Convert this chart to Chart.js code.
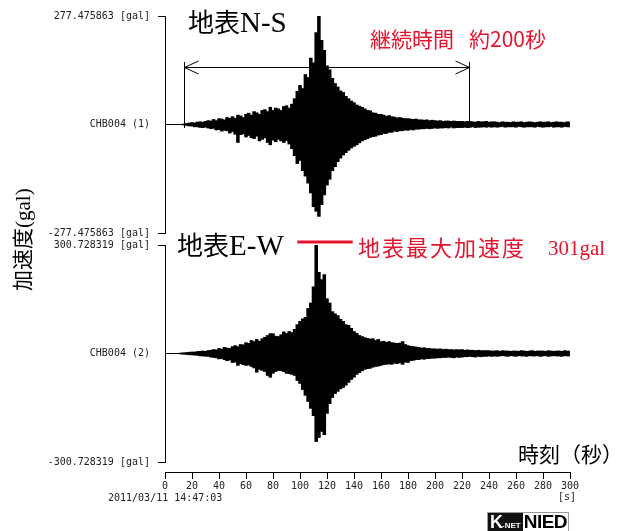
<!DOCTYPE html>
<html lang="ja">
<head>
<meta charset="utf-8">
<title>CHB004 加速度波形</title>
<script src="https://cdn.jsdelivr.net/npm/chart.js@4.4.1/dist/chart.umd.min.js"></script>
<style>
  html, body { margin: 0; background: #fff; }
  #wrap { position: relative; width: 620px; height: 531px; overflow: hidden; }
  #wave { position: absolute; left: 0; top: 0; }
  .note { position: absolute; white-space: nowrap; line-height: 1; }
  .jp { font-family: "Noto Sans CJK JP", sans-serif; }
  .serif { font-family: "Liberation Serif", "DejaVu Serif", serif; }
  .mono { font-family: "DejaVu Sans Mono", monospace; font-size: 10px; color: #222; }
  .red { color: #e5132d; }
  #ylabel { transform: rotate(-90deg); transform-origin: 0 0; }
  #logo { position: absolute; left: 487px; top: 512px; height: 18px; display: flex; border: 1px solid #999; }
  #logo .knet { background: #111; color: #fff; font: bold 18px "Liberation Sans", sans-serif; line-height: 18px; padding: 0 2px; letter-spacing: -1px; }
  #logo .knet small { font-size: 8px; letter-spacing: 0; }
  #logo .nied { color: #000; font: bold 19px "Liberation Sans", sans-serif; line-height: 18px; padding: 0 1px; letter-spacing: -0.5px; }
</style>
</head>
<body>
<div id="wrap">
  <canvas id="wave" width="620" height="531"></canvas>

  <div class="note jp" style="left:188px;top:8px;font-size:26px">地表<span class="serif" style="font-size:29px">N-S</span></div>
  <div class="note jp" style="left:177px;top:231px;font-size:26px">地表<span class="serif" style="font-size:29px">E-W</span></div>
  <div class="note jp red" style="left:370px;top:28px;font-size:21px">継続時間<span style="margin-left:15px">約200秒</span></div>
  <div class="note jp red" style="left:358px;top:235px;font-size:22px;letter-spacing:2px">地表最大加速度</div>
  <div class="note serif red" style="left:548px;top:238px;font-size:21px">301gal</div>
  <div class="note jp" style="left:518px;top:443px;font-size:21px">時刻（秒）</div>
  <div id="ylabel" class="note jp" style="left:11px;top:291px;font-size:21px">加速度<span class="serif">(gal)</span></div>
  <div class="note mono" style="left:108px;top:493px">2011/03/11 14:47:03</div>
  <div class="note mono" style="left:558px;top:492px">[s]</div>
  <div id="logo"><span class="knet">K<small>-NET</small></span><span class="nied">NIED</span></div>
</div>

<script>
// CHB004 surface record, 2011/03/11 14:47:03.
// Envelope of each trace in 2 s bins: peak up / peak down (magnitude) in gal.
const BIN_SECONDS = 2;

const nsUpper = [
  0, 0, 0, 0, 0, 0, 0, 1.3, 2.6, 3.8,
  5, 4, 6.4, 7, 6, 8, 10, 9, 13, 10,
  15, 14, 12, 18, 16, 20, 16, 24, 22, 18,
  26, 29, 24, 33, 30, 26, 36, 38, 33, 44,
  36, 42, 40, 36, 46, 48, 42, 52, 66, 85,
  100, 92, 128, 120, 170, 158, 235, 277.475863, 215, 190,
  150, 140, 118, 105, 96, 86, 82, 72, 66, 60,
  56, 50, 47, 44, 40, 36, 35, 30, 29, 26,
  26, 24, 21, 23, 20, 19, 17, 18, 16, 15,
  15, 14, 13, 14, 12, 12, 11, 12, 10, 11,
  10, 9, 10, 8, 9, 9, 8, 9, 8, 8,
  8, 7, 8, 8, 7, 6, 8, 7, 7, 8,
  6, 7, 7, 6, 5, 7, 6, 6, 5, 7,
  6, 6, 7, 5, 6, 7, 6, 5, 6, 7,
  6, 6, 7, 5, 6, 7, 6, 6, 5, 7, 6
];
const nsLower = [
  0, 0, 0, 0, 0, 0, 0, 1.3, 2.6, 3.8,
  4, 6, 6, 7.5, 8, 7, 9, 11, 10, 14,
  13, 17, 15, 16, 22, 18, 25, 46, 26, 24,
  32, 28, 34, 36, 30, 42, 38, 34, 46, 52,
  40, 44, 38, 42, 46, 41, 50, 62, 80, 100,
  92, 118, 132, 150, 175, 210, 222, 235, 205, 180,
  155, 140, 118, 108, 95, 86, 78, 72, 66, 60,
  56, 52, 47, 42, 39, 36, 33, 31, 30, 27,
  26, 23, 23, 20, 20, 17, 18, 16, 16, 14,
  15, 13, 14, 12, 12, 11, 11, 10, 11, 10,
  9, 10, 9, 9, 8, 9, 7, 9, 8, 8,
  8, 7, 8, 7, 6, 8, 7, 7, 6, 7,
  6, 7, 6, 7, 6, 5, 7, 6, 6, 6,
  7, 5, 6, 7, 6, 6, 6, 7, 5, 6,
  7, 6, 6, 5, 7, 6, 6, 7, 5, 6, 6
];
const ewUpper = [
  0, 0, 0, 0, 0, 0, 1.4, 2, 2.8, 3.5,
  4.2, 4, 5.5, 6, 7, 6, 8.3, 9, 11, 10,
  14, 12, 17, 15, 14, 19, 22, 19, 25, 24,
  30, 28, 36, 33, 39, 34, 41, 45, 50, 55,
  55, 48, 47, 52, 60, 56, 61, 58, 67, 80,
  89, 96, 100, 125, 140, 185, 300.728319, 225, 205, 219,
  152, 140, 116, 110, 105, 95, 89, 80, 78, 70,
  61, 56, 50, 47, 44, 42, 40, 41, 36, 39,
  33, 34, 31, 33, 30, 29, 28, 29, 33, 25,
  22, 20, 19, 18, 17, 15, 16, 14, 14, 13,
  13, 12, 13, 11, 12, 11, 11, 10, 11, 10,
  11, 9, 10, 9, 9, 8, 9, 8, 8, 8,
  8, 7, 7, 8, 6, 8, 7, 7, 6, 7,
  7, 6, 8, 7, 6, 7, 8, 6, 7, 7,
  7, 6, 8, 7, 6, 7, 7, 6, 8, 7, 7
];
const ewLower = [
  0, 0, 0, 0, 0, 0, 1.4, 2, 2.8, 3.5,
  4, 4.5, 5, 6.5, 7, 7.5, 8, 10, 11, 12,
  15, 14, 17, 20, 18, 25, 24, 33, 28, 31,
  33, 32, 36, 40, 52, 44, 47, 50, 61, 66,
  55, 50, 47, 48, 50, 55, 56, 58, 61, 75,
  83, 100, 116, 133, 152, 172, 244, 233, 216, 225,
  166, 139, 122, 111, 105, 98, 94, 88, 80, 72,
  66, 58, 53, 48, 44, 42, 41, 38, 36, 35,
  33, 31, 30, 29, 30, 27, 28, 26, 30, 24,
  25, 20, 19, 17, 17, 15, 16, 14, 14, 13,
  13, 12, 12, 11, 11, 10, 11, 12, 10, 11,
  10, 9, 9, 8, 9, 10, 8, 9, 8, 8,
  7, 8, 7, 8, 7, 6, 7, 8, 6, 7,
  8, 6, 7, 7, 8, 6, 7, 7, 6, 8,
  7, 6, 8, 7, 6, 7, 7, 8, 6, 7, 7
];

const timeTicks = [0, 20, 40, 60, 80, 100, 120, 140, 160, 180, 200, 220, 240, 260, 280, 300];

// duration arrow (s) and its height on the N-S trace (gal)
const durationStart = 14;
const durationEnd = 225;
const arrowLevel = 148;

const monoFont = { family: '"DejaVu Sans Mono", monospace', size: 10 };

const binTimes = nsUpper.map((_, i) => i * BIN_SECONDS);
const toBars = (upper, lower) => upper.map((u, i) => ({ x: binTimes[i], y: [-lower[i], u] }));
const absPeak = (upper, lower) => Math.max(...upper, ...lower);

const nsPeak = absPeak(nsUpper, nsLower);
const ewPeak = absPeak(ewUpper, ewLower);
const zeroLine = [{ x: 0, y: 0 }, { x: timeTicks[timeTicks.length - 1], y: 0 }];

function traceAxis(peak, station, weight, height) {
  return {
    type: 'linear',
    position: 'left',
    stack: 'traces',
    stackWeight: height,
    weight,
    min: -peak,
    max: peak,
    afterBuildTicks: s => { s.ticks = [{ value: peak }, { value: 0 }, { value: -peak }]; },
    afterFit: s => { s.width = 165; },
    ticks: {
      autoSkip: false,
      padding: 8,
      color: '#222',
      font: monoFont,
      callback: v => (v === 0 ? station : v.toFixed(6) + ' [gal]')
    },
    grid: {
      drawOnChartArea: false,
      tickLength: 7,
      tickColor: c => (c.tick && c.tick.value === 0 ? 'rgba(0,0,0,0)' : '#000')
    },
    border: { color: '#000', width: 1 }
  };
}

function gapAxis(weight, height) {
  return {
    type: 'linear',
    position: 'left',
    stack: 'traces',
    stackWeight: height,
    weight,
    afterFit: s => { s.width = 0; },
    ticks: { display: false },
    grid: { display: false },
    border: { display: false }
  };
}

const crisp = v => Math.round(v) + 0.5;

const markers = {
  id: 'markers',
  afterDatasetsDraw(chart) {
    const { ctx, scales: { x, yNS, yEW } } = chart;
    ctx.save();

    // duration arrow over the N-S trace
    const x0 = crisp(x.getPixelForValue(durationStart));
    const x1 = crisp(x.getPixelForValue(durationEnd));
    const ya = crisp(yNS.getPixelForValue(arrowLevel));
    ctx.strokeStyle = '#000';
    ctx.lineWidth = 1;
    ctx.beginPath();
    [x0, x1].forEach(px => {
      ctx.moveTo(px, yNS.getPixelForValue(160));
      ctx.lineTo(px, yNS.getPixelForValue(-9));
    });
    ctx.moveTo(x0, ya);
    ctx.lineTo(x1, ya);
    ctx.moveTo(x0 + 14, ya - 6.5);
    ctx.lineTo(x0, ya);
    ctx.lineTo(x0 + 14, ya + 6.5);
    ctx.moveTo(x1 - 14, ya - 6.5);
    ctx.lineTo(x1, ya);
    ctx.lineTo(x1 - 14, ya + 6.5);
    ctx.stroke();

    // red mark at the E-W peak
    const yp = yEW.getPixelForValue(ewPeak) - 3;
    ctx.strokeStyle = '#e5132d';
    ctx.lineWidth = 3;
    ctx.beginPath();
    ctx.moveTo(x.getPixelForValue(98), yp);
    ctx.lineTo(x.getPixelForValue(139), yp);
    ctx.stroke();

    ctx.restore();
  }
};

const bars = (data, yAxisID) => ({
  data,
  yAxisID,
  backgroundColor: '#000',
  borderWidth: 0,
  barThickness: 2.9,
  grouped: false,
  order: 1
});

const baseline = yAxisID => ({
  type: 'line',
  data: zeroLine,
  yAxisID,
  borderColor: '#000',
  borderWidth: 1,
  pointRadius: 0,
  order: 2
});

new Chart(document.getElementById('wave'), {
  type: 'bar',
  data: {
    datasets: [
      baseline('yNS'),
      baseline('yEW'),
      bars(toBars(nsUpper, nsLower), 'yNS'),
      bars(toBars(ewUpper, ewLower), 'yEW')
    ]
  },
  options: {
    responsive: false,
    animation: false,
    events: [],
    layout: { padding: { left: 0, right: 50, top: 16, bottom: 0 } },
    plugins: { legend: { display: false }, tooltip: { enabled: false } },
    scales: {
      x: {
        type: 'linear',
        position: 'bottom',
        min: 0,
        max: 300,
        offset: false,
        afterBuildTicks: s => { s.ticks = timeTicks.map(v => ({ value: v })); },
        afterFit: s => { s.height = 59; },
        ticks: { autoSkip: false, maxRotation: 0, padding: 1, color: '#222', font: monoFont },
        grid: { offset: false, drawOnChartArea: false, tickLength: 7, color: '#000' },
        border: { color: '#000', width: 1 }
      },
      gapB: gapAxis(1, 10),
      yEW: traceAxis(ewPeak, 'CHB004 (2)', 2, 217),
      gapA: gapAxis(3, 12),
      yNS: traceAxis(nsPeak, 'CHB004 (1)', 4, 217)
    }
  },
  plugins: [markers]
});
</script>
</body>
</html>
